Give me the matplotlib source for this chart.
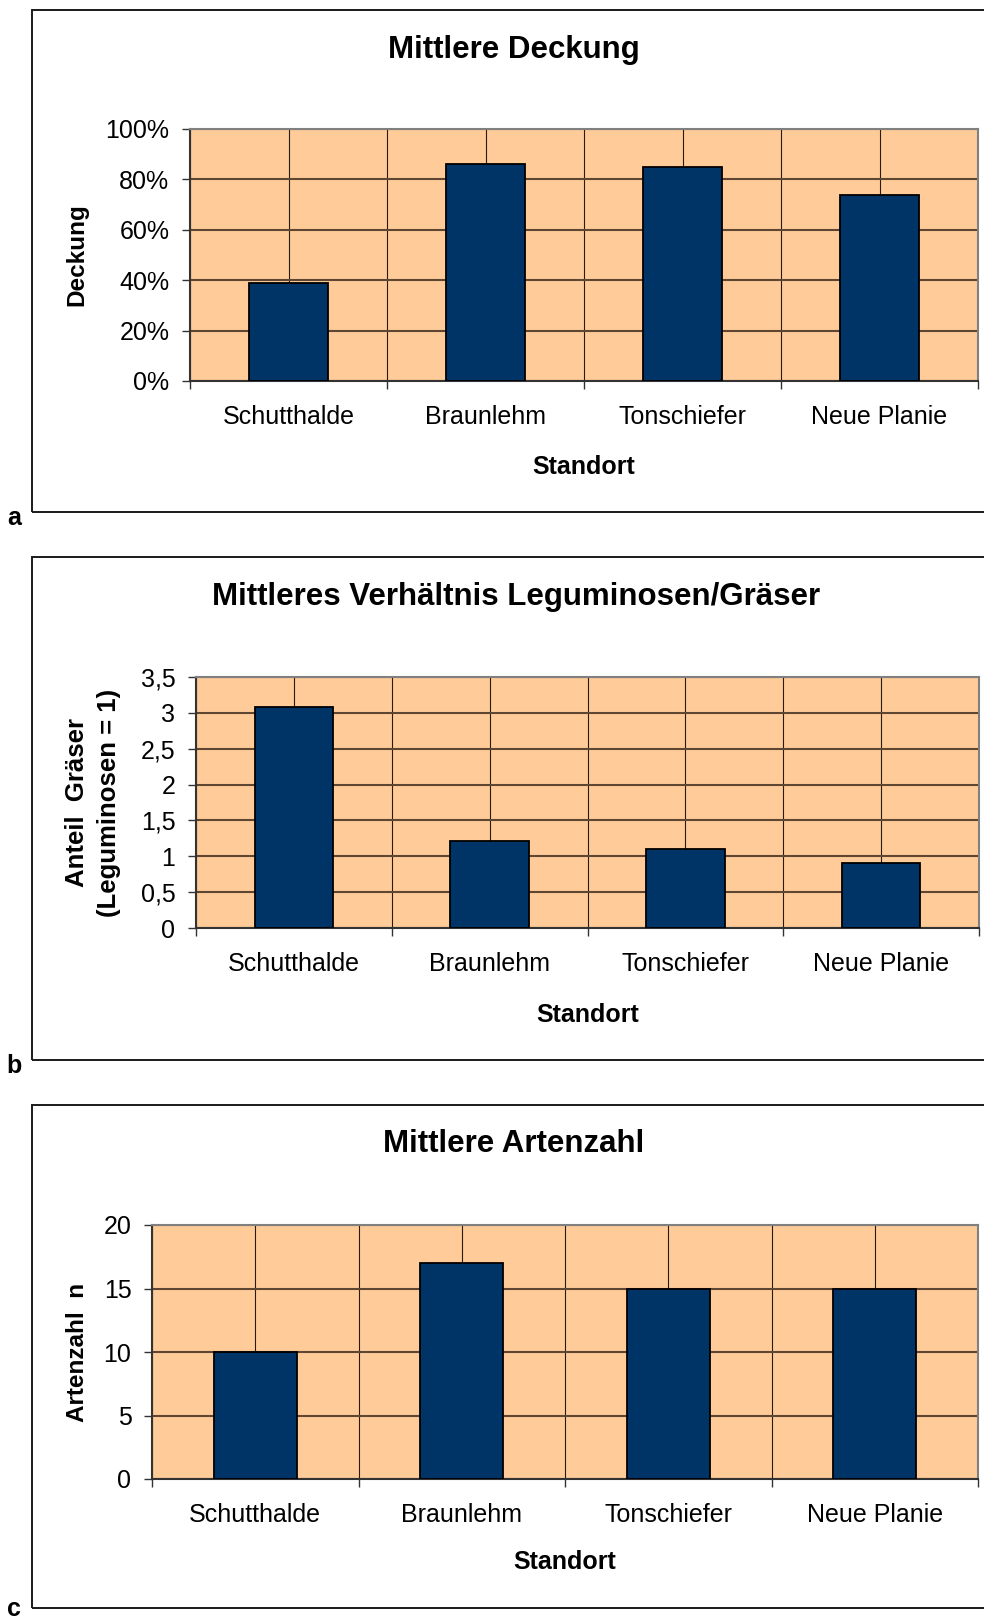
import numpy as np
import matplotlib

matplotlib.use("Agg")
import matplotlib.pyplot as plt
from matplotlib.patches import Rectangle
from matplotlib.ticker import FuncFormatter

# site names and the three mean values per site
standorte = ["Schutthalde", "Braunlehm", "Tonschiefer", "Neue Planie"]
deckung = [0.39, 0.86, 0.85, 0.74]
verhaeltnis = [3.08, 1.21, 1.10, 0.91]
artenzahl = [10, 17, 15, 15]

titles = ["Mittlere Deckung",
          "Mittleres Verhältnis Leguminosen/Gräser",
          "Mittlere Artenzahl"]
ylabels = ["Deckung", "Anteil  Gräser\n(Leguminosen = 1)", "Artenzahl  n"]
yticks = [np.arange(0, 1.01, 0.2), np.arange(0, 3.51, 0.5), np.arange(0, 21, 5)]
letters = ["a", "b", "c"]

W, H = 984, 1621
plt.rcParams["font.family"] = ["Liberation Sans", "DejaVu Sans"]

fig = plt.figure(figsize=(W / 100, H / 100), dpi=100)


def px_rect(l, t, r, b):
    return [l / W, 1 - b / H, (r - l) / W, (b - t) / H]


def fmt_pct(v, _):
    return f"{v * 100:.0f}%"


def fmt_comma(v, _):
    s = f"{v:g}"
    return s.replace(".", ",")


# pixel layout: frame (top, bottom), plot area (l, t, r, b), title, label spots
layout = [
    dict(frame=(10, 512), plot=(190, 129, 978, 381), title=(514, 50),
         ylab=77, ysize=17.5, xlab=467, letter=518),
    dict(frame=(557, 1060), plot=(196, 677, 979, 928), title=(516, 597),
         ylab=93, ysize=18.5, xlab=1015, letter=1066),
    dict(frame=(1105, 1608), plot=(152, 1225, 978, 1479), title=(514, 1144),
         ylab=77, ysize=17.5, xlab=1562, letter=1609),
]
formatters = [FuncFormatter(fmt_pct), FuncFormatter(fmt_comma),
              FuncFormatter(lambda v, _: f"{v:.0f}")]
series = [deckung, verhaeltnis, artenzahl]

x = np.arange(len(standorte))
for i, lay in enumerate(layout):
    ft, fb = lay["frame"]
    fig.add_artist(Rectangle((32 / W, 1 - fb / H), 1100 / W, (fb - ft) / H,
                             transform=fig.transFigure, fill=False,
                             lw=1.4, ec="#1a1a1a", clip_on=False))
    l, t, r, b = lay["plot"]
    ax = fig.add_axes(px_rect(l, t, r, b))
    ax.set_facecolor("#FFCC99")
    ax.set_axisbelow(True)
    ax.bar(x, series[i], width=0.4, color="#003366", edgecolor="black",
           linewidth=1.3, zorder=3)
    ax.set_xlim(-0.5, 3.5)
    yt = yticks[i]
    ax.set_ylim(yt[0], yt[-1])
    ax.set_yticks(yt)
    ax.yaxis.set_major_formatter(formatters[i])

    ax.set_xticks(x)
    ax.set_xticklabels(standorte)
    ax.set_xticks(np.arange(-0.5, 4, 1), minor=True)
    ax.tick_params(axis="x", which="major", length=0, pad=17, labelsize=18)
    ax.tick_params(axis="x", which="minor", length=5.5, width=1, color="#333333")
    ax.tick_params(axis="y", length=5.8, width=1, color="#333333", pad=9,
                   labelsize=18)

    ax.grid(axis="y", which="major", color="#5e4632", lw=1.5)
    ax.grid(axis="x", which="both", color="#2a1a0a", lw=0.8)

    for side in ("left", "bottom"):
        ax.spines[side].set_color("#333333")
        ax.spines[side].set_linewidth(1.5)
    for side in ("top", "right"):
        ax.spines[side].set_color("#808080")
        ax.spines[side].set_linewidth(1.5)

    ax.set_xlabel("Standort", fontsize=18, fontweight="bold")
    ax.xaxis.set_label_coords(0.5, (b - lay["xlab"]) / (b - t))
    ax.xaxis.label.set_va("center")
    ax.set_ylabel(ylabels[i], fontsize=lay["ysize"], fontweight="bold",
                  linespacing=1.45)
    ax.yaxis.set_label_coords((lay["ylab"] - l) / (r - l), 0.5)
    ax.yaxis.label.set_va("center")
    ax.yaxis.label.set_ha("center")

    tx, ty = lay["title"]
    fig.text(tx / W, 1 - ty / H, titles[i], ha="center", va="center",
             fontsize=22.5, fontweight="bold")
    fig.text(14 / W, 1 - lay["letter"] / H, letters[i], ha="center",
             va="center", fontsize=18, fontweight="bold")

fig.savefig("out.png", dpi=100)
